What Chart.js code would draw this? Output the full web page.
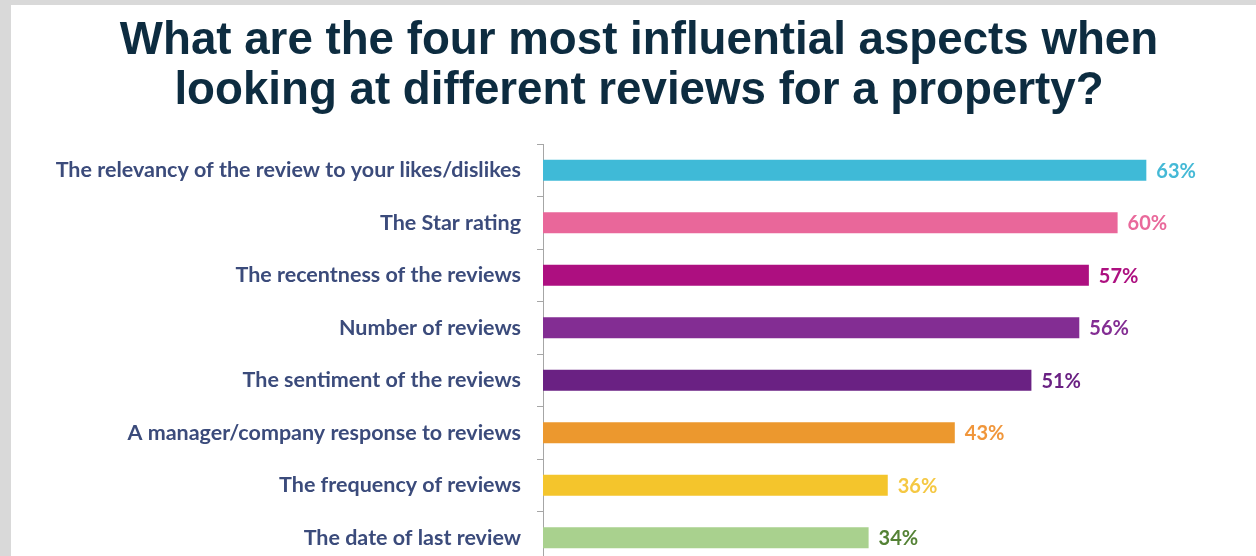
<!DOCTYPE html>
<html>
<head>
<meta charset="utf-8">
<script src="https://cdn.jsdelivr.net/npm/chart.js@4.4.1/dist/chart.umd.min.js"></script>
<style>
  html, body { margin: 0; padding: 0; background: #d9d9d9; overflow: hidden; width: 1256px; height: 556px; }
  #wrap { position: absolute; left: 11px; top: 5px; width: 1256px; height: 575px; background: #fff; }
</style>
</head>
<body>
<div id="wrap"><canvas id="chart" width="1256" height="575"></canvas></div>
<script>
// categories top to bottom
const aspects = [
  "The relevancy of the review to your likes/dislikes",
  "The Star rating",
  "The recentness of the reviews",
  "Number of reviews",
  "The sentiment of the reviews",
  "A manager/company response to reviews",
  "The frequency of reviews",
  "The date of last review"
];

// percent of respondents
const shares = [63, 60, 57, 56, 51, 43, 36, 34];

// bar colours and value label colours
const barColors = ["#3fbad7", "#e9679a", "#ad0f80", "#832d93", "#6a2183", "#ec982e", "#f4c52c", "#a9d18e"];
const labelColors = ["#45b9d6", "#e9699b", "#ad1080", "#832d93", "#6a2183", "#f0963b", "#f5c843", "#548235"];

const titleLines = [
  "What are the four most influential aspects when",
  "looking at different reviews for a property?"
];

// draws "63%" etc just right of each bar
const valueLabels = {
  id: "valueLabels",
  afterDatasetsDraw(chart) {
    const ctx = chart.ctx;
    const meta = chart.getDatasetMeta(0);
    ctx.save();
    ctx.font = "bold 20px Lato";
    ctx.textAlign = "left";
    ctx.textBaseline = "middle";
    meta.data.forEach((bar, i) => {
      ctx.fillStyle = labelColors[i];
      ctx.fillText(shares[i] + "%", bar.x + 10, bar.y + 1);
    });
    ctx.restore();
  }
};

new Chart(document.getElementById("chart"), {
  type: "bar",
  plugins: [valueLabels],
  data: {
    labels: aspects,
    datasets: [{
      data: shares,
      backgroundColor: barColors,
      barPercentage: 0.4,
      categoryPercentage: 1
    }]
  },
  options: {
    indexAxis: "y",
    responsive: false,
    animation: false,
    layout: { padding: { left: 0, right: 0, top: 0, bottom: 16 } },
    plugins: {
      legend: { display: false },
      tooltip: { enabled: false },
      title: {
        display: true,
        text: titleLines,
        color: "#0d2c40",
        font: { family: "'Liberation Sans', Arial, sans-serif", size: 45.7, weight: "bold", lineHeight: "50px" },
        padding: { top: 11, bottom: 28 }
      }
    },
    scales: {
      x: { display: false, min: 0, max: 75.6 },
      y: {
        offset: true,
        afterFit(scale) {
          scale.width = 532;
          scale.paddingTop = 0;
          scale.paddingBottom = 0;
        },
        border: { display: true, color: "#a6a6a6", width: 1 },
        grid: {
          offset: true,
          drawOnChartArea: false,
          drawTicks: true,
          tickLength: 6,
          color: "#a6a6a6"
        },
        ticks: {
          padding: 16,
          color: "#3b4b7b",
          font: { family: "Lato", size: 21.5, weight: "bold" }
        }
      }
    }
  }
});
</script>
</body>
</html>
